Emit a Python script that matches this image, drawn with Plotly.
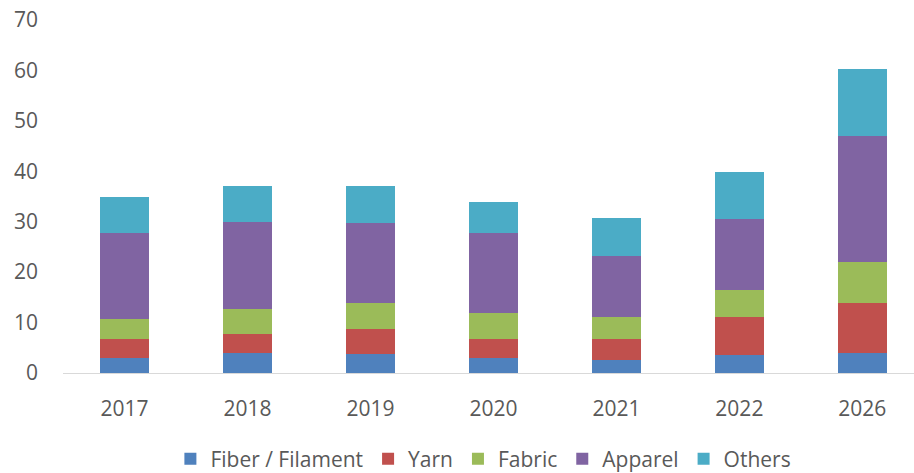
import plotly.graph_objects as go

years = ["2017", "2018", "2019", "2020", "2021", "2022", "2026"]
fiber = [3.0, 4.0, 3.8, 3.0, 2.6, 3.6, 4.0]
yarn = [3.8, 3.8, 4.9, 3.8, 4.1, 7.5, 9.8]
fabric = [3.9, 4.9, 5.1, 5.0, 4.5, 5.3, 8.2]
apparel = [17.1, 17.2, 16.0, 16.0, 12.1, 14.1, 25.0]
others = [7.2, 7.2, 7.3, 6.1, 7.5, 9.3, 13.2]

series = [
    ("Fiber / Filament", fiber, "#4F81BD"),
    ("Yarn", yarn, "#C0504D"),
    ("Fabric", fabric, "#9BBB59"),
    ("Apparel", apparel, "#8064A2"),
    ("Others", others, "#4BACC6"),
]

fig = go.Figure()
for name, vals, color in series:
    fig.add_trace(go.Bar(x=years, y=vals, name=name, marker_color=color,
                         marker_line_width=0, width=0.4))

grey = "#595959"
fam = "Open Sans, DejaVu Sans, sans-serif"

fig.update_layout(
    barmode="stack",
    width=914, height=473,
    margin=dict(l=63, r=0, t=20, b=100, autoexpand=False),
    paper_bgcolor="white", plot_bgcolor="white",
    font=dict(family=fam, size=21, color=grey),
    showlegend=True,
    legend=dict(orientation="h", x=0.494, xanchor="center",
                y=-0.186, yanchor="top",
                font=dict(size=21, color=grey), traceorder="normal",
                itemwidth=30, tracegroupgap=0),
    xaxis=dict(type="category", range=[-0.5, 6.42], showgrid=False,
               showline=True, linecolor="#D9D9D9", linewidth=1,
               ticks="", ticklabelstandoff=17,
               tickfont=dict(size=21, color=grey)),
    yaxis=dict(range=[0, 70], dtick=10, showgrid=False, zeroline=False,
               showline=False, ticks="", ticklabelstandoff=24,
               tickfont=dict(size=21, color=grey)),
)

fig.write_html("out.html")
